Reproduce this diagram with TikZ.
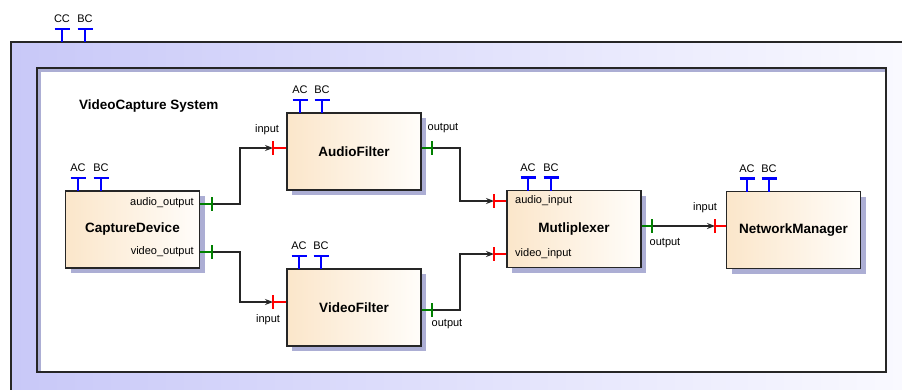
\documentclass[tikz,border=0pt]{standalone}
\usepackage{fontspec}
\setmainfont{Liberation Sans}
\usetikzlibrary{shadows,arrows.meta}
\definecolor{sysleft}{RGB}{200,200,248}
\definecolor{sysright}{RGB}{250,250,255}
\definecolor{boxleft}{RGB}{251,230,202}
\definecolor{boxright}{RGB}{255,253,250}
\definecolor{shadowc}{RGB}{172,174,212}
\definecolor{portblue}{RGB}{0,0,255}
\definecolor{portgreen}{RGB}{0,128,0}
\definecolor{portred}{RGB}{255,0,0}
\tikzset{
  comp/.style={draw=black!85, line width=1.1pt, left color=boxleft, right color=boxright,
    minimum width=134pt, minimum height=77pt, inner sep=0pt,
    font=\fontsize{13.5}{16}\selectfont\bfseries,
    drop shadow={shadow xshift=5pt, shadow yshift=-5pt, fill=shadowc, opacity=1}},
  plabel/.style={inner sep=0pt, font=\fontsize{11}{13}\selectfont},
  tport/.style={draw=portblue, line width=2.4pt},
  inport/.style={draw=portred, line width=2pt},
  outport/.style={draw=portgreen, line width=2pt},
  conn/.style={draw=black!85, line width=1.1pt, -{Stealth[length=8pt,width=6pt]}},
}
\begin{document}
\begin{tikzpicture}[x=1pt, y=-1pt]
\useasboundingbox (0,0) rectangle (902,389);
\clip (0,0) rectangle (902,389);
\shade[left color=sysleft, right color=sysright] (11,42) rectangle (920,400);
\draw[black!85, line width=1.3pt] (11,42) rectangle (920,400);
\fill[white] (37,68) rectangle (886,372);
\fill[shadowc] (37,68) rectangle (41,372);
\fill[shadowc] (37,68) rectangle (886,72);
\draw[black!85, line width=1.3pt] (37,68) rectangle (886,372);
\node[inner sep=0pt, font=\fontsize{13.5}{16}\selectfont\bfseries, anchor=west] (systitle) at (79,106) {VideoCapture System};

\node[comp] (capture) at (132.5,229.5) {CaptureDevice};
\node[comp] (audio) at (354,151.5) {AudioFilter};
\node[comp] (video) at (354,307.5) {VideoFilter};
\node[comp] (mux) at (574,229) {Mutliplexer};
\node[comp] (netman) at (793.5,230) {NetworkManager};

\foreach \px/\py/\lab/\nm in {62/42/CC/sysCC, 85/42/BC/sysBC, 78/191/AC/capAC, 101/191/BC/capBC,
    300/113/AC/afAC, 322/113/BC/afBC, 299/269/AC/vfAC, 321/269/BC/vfBC,
    528/190.5/AC/muxAC, 551/190.5/BC/muxBC, 747/191.5/AC/nmAC, 769/191.5/BC/nmBC}{
  \draw[tport] (\px,\py) -- ++(0,-13) ++(-7.5,0) -- ++(15,0);
  \node[plabel] (\nm) at (\px,\py-23) {\lab};
}

\coordinate (capAO) at (212,204);
\coordinate (capVO) at (212,252);
\coordinate (afIn) at (273,148);
\coordinate (afOut) at (432,148);
\coordinate (vfIn) at (273,302);
\coordinate (vfOut) at (432,310);
\coordinate (muxAI) at (494,201);
\coordinate (muxVI) at (494,254);
\coordinate (muxOut) at (652,226);
\coordinate (nmIn) at (715,226);

\draw[conn] (capAO) -- ++(28,0) |- (afIn);
\draw[conn] (capVO) -- ++(28,0) |- (vfIn);
\draw[conn] (afOut) -- ++(28,0) |- (muxAI);
\draw[conn] (vfOut) -- ++(28,0) |- (muxVI);
\draw[conn] (muxOut) -- (nmIn);

\foreach \p/\b in {capAO/capture, capVO/capture, afOut/audio, vfOut/video, muxOut/mux}{
  \draw[outport] (\p) -- (\b.east |- \p);
  \draw[outport] ([yshift=7pt]\p) -- ([yshift=-7pt]\p);
}
\foreach \p/\b in {afIn/audio, vfIn/video, muxAI/mux, muxVI/mux, nmIn/netman}{
  \draw[inport] (\p) -- (\b.west |- \p);
  \draw[inport] ([yshift=7pt]\p) -- ([yshift=-7pt]\p);
}

\node[plabel, anchor=east] (capAOl) at (194,203) {audio\_output};
\node[plabel, anchor=east] (capVOl) at (194,252) {video\_output};
\node[plabel, anchor=west] (muxAIl) at (515,201) {audio\_input};
\node[plabel, anchor=west] (muxVIl) at (515,254) {video\_input};
\node[plabel] (afInl) at (267,130) {input};
\node[plabel] (afOutl) at (443,128) {output};
\node[plabel] (vfInl) at (268,320) {input};
\node[plabel] (vfOutl) at (447,324) {output};
\node[plabel] (muxOutl) at (665,243) {output};
\node[plabel] (nmInl) at (705,208) {input};
\end{tikzpicture}
\end{document}
